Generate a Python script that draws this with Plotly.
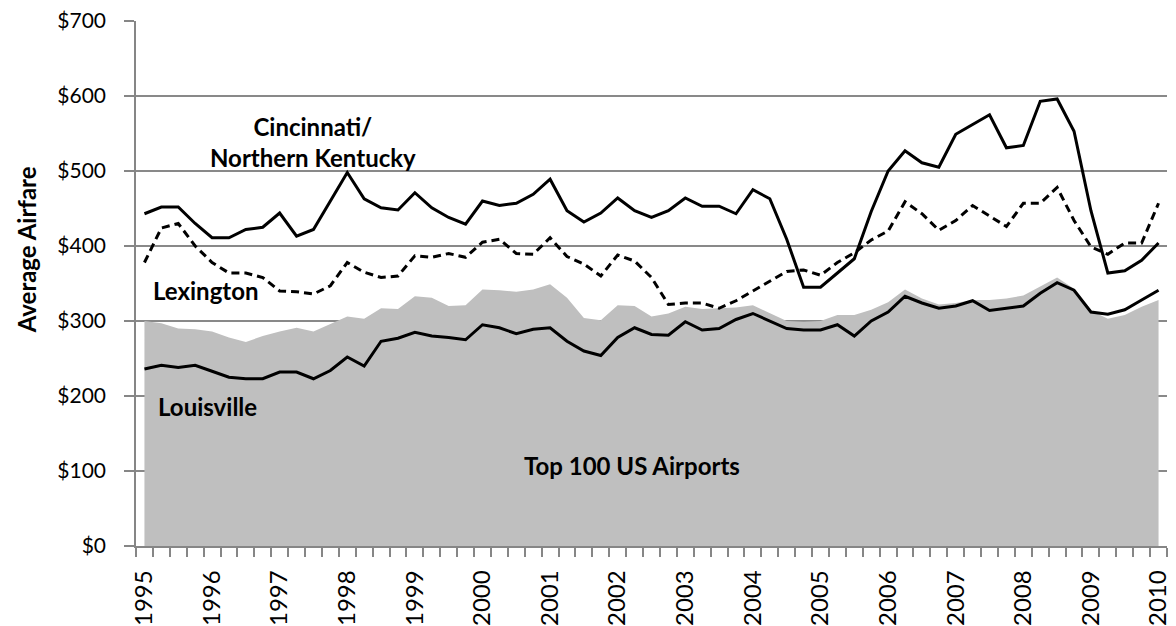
import plotly.graph_objects as go

years = [str(y) for y in range(1995, 2011)]
quarters = list(range(61))  # 1995 Q1 .. 2010 Q1

cincinnati = [443, 452, 452, 430, 411, 411, 422, 425, 444, 413, 422, 460, 498, 463, 451,
              448, 471, 451, 438, 429, 460, 454, 457, 469, 489, 447, 432, 444, 464, 447,
              438, 447, 464, 453, 453, 443, 475, 463, 409, 345, 345, 364, 383, 446, 500,
              527, 511, 505, 549, 562, 575, 531, 534, 593, 596, 553, 447, 364, 367, 381, 404]

lexington = [378, 424, 430, 400, 378, 364, 364, 358, 340, 339, 336, 347, 378, 365, 358,
             360, 387, 385, 390, 385, 405, 409, 390, 389, 411, 386, 376, 360, 388, 380,
             358, 322, 324, 324, 317, 327, 340, 353, 366, 368, 361, 378, 391, 408, 420,
             459, 443, 421, 434, 454, 440, 426, 457, 457, 478, 434, 399, 389, 404, 404, 457]

louisville = [236, 241, 238, 241, 233, 225, 223, 223, 232, 232, 223, 234, 252, 240, 273,
              277, 285, 280, 278, 275, 295, 291, 283, 289, 291, 273, 260, 254, 278, 291,
              282, 281, 299, 288, 290, 302, 310, 300, 290, 288, 288, 295, 280, 300, 312,
              333, 324, 317, 320, 327, 314, 317, 320, 337, 351, 341, 312, 309, 315, 328, 341]

top100 = [300, 297, 290, 289, 286, 278, 272, 280, 286, 291, 286, 296, 306, 303, 317,
          316, 333, 331, 320, 321, 342, 341, 339, 342, 349, 331, 304, 301, 321, 320,
          306, 310, 319, 316, 317, 318, 321, 310, 300, 299, 300, 308, 308, 315, 325,
          342, 330, 322, 324, 328, 328, 330, 334, 346, 358, 343, 314, 303, 308, 319, 328]

y_ticks = list(range(0, 701, 100))
y_labels = ["$" + str(v) for v in y_ticks]

FONT = "Lato"

fig = go.Figure()
fig.add_trace(go.Scatter(x=quarters, y=top100, mode="lines", fill="tozeroy",
                         fillcolor="#BFBFBF", line=dict(width=0, color="#BFBFBF"),
                         hoverinfo="skip", showlegend=False))
fig.add_trace(go.Scatter(x=quarters, y=louisville, mode="lines",
                         line=dict(color="black", width=3), showlegend=False))
fig.add_trace(go.Scatter(x=quarters, y=lexington, mode="lines",
                         line=dict(color="black", width=3, dash="8px,5px"), showlegend=False))
fig.add_trace(go.Scatter(x=quarters, y=cincinnati, mode="lines",
                         line=dict(color="black", width=3), showlegend=False))

ann_font = dict(family=FONT, size=24, color="black", weight="bold")
fig.add_annotation(x=10.0, y=539, xref="x", yref="y", text="Cincinnati/<br>Northern Kentucky",
                   showarrow=False, font=ann_font, align="center")
fig.add_annotation(x=3.6, y=341, xref="x", yref="y", text="Lexington",
                   showarrow=False, font=ann_font)
fig.add_annotation(x=3.75, y=186, xref="x", yref="y", text="Louisville",
                   showarrow=False, font=ann_font)
fig.add_annotation(x=28.85, y=108, xref="x", yref="y", text="Top 100 US Airports",
                   showarrow=False, font=ann_font)
fig.add_annotation(x=-0.1067, y=0.565, xref="paper", yref="paper", text="Average Airfare",
                   textangle=-90, showarrow=False, xanchor="center", yanchor="middle",
                   font=dict(family=FONT, size=24, color="black", weight="bold"))

# page body adds an 8px offset; figure is sized to fill the rest of the window
fig.update_layout(
    width=1168, height=618,
    margin=dict(l=128, r=9, t=13, b=80),
    plot_bgcolor="white", paper_bgcolor="white",
    font=dict(family=FONT, size=20, color="black"),
    xaxis=dict(range=[-0.5, 60.5], tickmode="array", tickvals=list(range(0, 61, 4)),
               ticktext=years, tickangle=-90, ticks="outside", ticklen=0,
               ticklabelstandoff=13, automargin=False, ticklabeloverflow="allow",
               showgrid=False, zeroline=False, showline=True, linecolor="#868686", linewidth=1.5,
               tickfont=dict(family=FONT, size=24, color="black"),
               minor=dict(tickmode="array", tickvals=[q - 0.5 for q in range(62)],
                          ticks="outside", ticklen=9, tickcolor="#868686", tickwidth=1.5,
                          showgrid=False)),
    yaxis=dict(range=[0, 700], tickmode="array", tickvals=y_ticks, ticktext=y_labels,
               ticks="outside", ticklen=10, tickcolor="#868686", tickwidth=1.5,
               ticklabelstandoff=14, automargin=False, ticklabeloverflow="allow",
               showgrid=True, gridcolor="#898989", gridwidth=1.5, zeroline=False,
               showline=True, linecolor="#868686", linewidth=1.5,
               tickfont=dict(family=FONT, size=21, color="black")),
)

fig.write_html("out.html")
